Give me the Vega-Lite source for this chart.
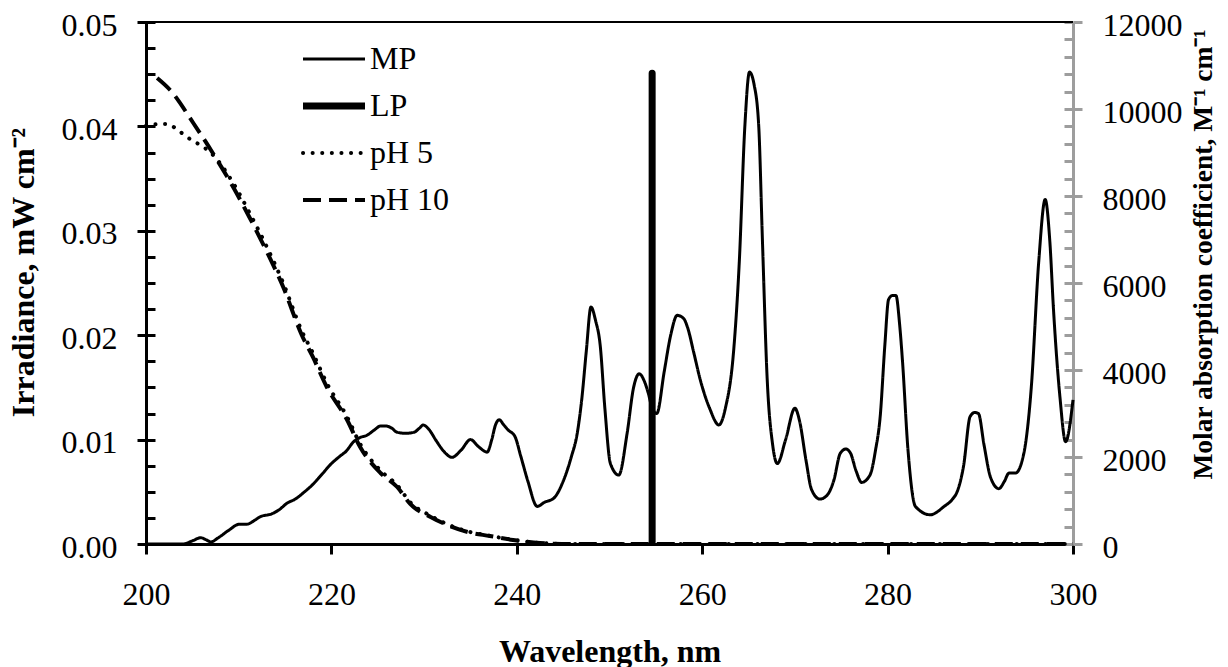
{
  "$schema": "https://vega.github.io/schema/vega-lite/v6.json",
  "width": 927,
  "height": 522,
  "autosize": {"type": "none"},
  "padding": {"left": 146, "top": 22, "right": 155, "bottom": 123},
  "background": "white",
  "config": {
    "view": {"stroke": null},
    "font": "Liberation Serif",
    "axis": {"labelFont": "Liberation Serif", "labelFontSize": 32, "labelColor": "black", "labelFlush": false, "titleFont": "Liberation Serif", "titleFontSize": 28, "titleFontWeight": "bold", "titleColor": "black", "grid": false}
  },
  "datasets": {
    "mp": [
      {"series": "MP", "wl": 200, "val": 0}, {"series": "MP", "wl": 202, "val": 0}, {"series": "MP", "wl": 204, "val": 0},
      {"series": "MP", "wl": 205, "val": 0.0003}, {"series": "MP", "wl": 205.9, "val": 0.0006}, {"series": "MP", "wl": 206.5, "val": 0.0004},
      {"series": "MP", "wl": 207, "val": 0.0002}, {"series": "MP", "wl": 207.8, "val": 0.0006}, {"series": "MP", "wl": 208.9, "val": 0.0013},
      {"series": "MP", "wl": 210.1, "val": 0.0019}, {"series": "MP", "wl": 210.9, "val": 0.0019}, {"series": "MP", "wl": 211.6, "val": 0.0022},
      {"series": "MP", "wl": 212.3, "val": 0.0026}, {"series": "MP", "wl": 213.6, "val": 0.0029}, {"series": "MP", "wl": 214.4, "val": 0.0033},
      {"series": "MP", "wl": 215.2, "val": 0.0039}, {"series": "MP", "wl": 216.1, "val": 0.0043}, {"series": "MP", "wl": 217.1, "val": 0.005},
      {"series": "MP", "wl": 218.1, "val": 0.0058}, {"series": "MP", "wl": 219.0, "val": 0.0067}, {"series": "MP", "wl": 220.0, "val": 0.0077},
      {"series": "MP", "wl": 220.9, "val": 0.0084}, {"series": "MP", "wl": 221.6, "val": 0.0089}, {"series": "MP", "wl": 222.4, "val": 0.0098},
      {"series": "MP", "wl": 223.1, "val": 0.0102}, {"series": "MP", "wl": 223.8, "val": 0.0104}, {"series": "MP", "wl": 224.6, "val": 0.0109},
      {"series": "MP", "wl": 225.3, "val": 0.0113}, {"series": "MP", "wl": 225.9, "val": 0.0113}, {"series": "MP", "wl": 226.5, "val": 0.0111},
      {"series": "MP", "wl": 227.1, "val": 0.0107}, {"series": "MP", "wl": 228.0, "val": 0.0106}, {"series": "MP", "wl": 228.9, "val": 0.0107},
      {"series": "MP", "wl": 229.5, "val": 0.0111}, {"series": "MP", "wl": 229.9, "val": 0.0114}, {"series": "MP", "wl": 230.5, "val": 0.011},
      {"series": "MP", "wl": 231.3, "val": 0.0099}, {"series": "MP", "wl": 232.2, "val": 0.0088}, {"series": "MP", "wl": 233.0, "val": 0.0083},
      {"series": "MP", "wl": 234.0, "val": 0.009}, {"series": "MP", "wl": 235.0, "val": 0.01}, {"series": "MP", "wl": 235.9, "val": 0.0093},
      {"series": "MP", "wl": 236.8, "val": 0.0088}, {"series": "MP", "wl": 237.3, "val": 0.01}, {"series": "MP", "wl": 237.7, "val": 0.0114},
      {"series": "MP", "wl": 238.1, "val": 0.0119}, {"series": "MP", "wl": 238.6, "val": 0.0114}, {"series": "MP", "wl": 239.1, "val": 0.0109},
      {"series": "MP", "wl": 239.8, "val": 0.0103}, {"series": "MP", "wl": 240.4, "val": 0.0085}, {"series": "MP", "wl": 241.2, "val": 0.006},
      {"series": "MP", "wl": 242.2, "val": 0.0036}, {"series": "MP", "wl": 243.0, "val": 0.004}, {"series": "MP", "wl": 244.0, "val": 0.0044},
      {"series": "MP", "wl": 245.0, "val": 0.006}, {"series": "MP", "wl": 245.9, "val": 0.0084}, {"series": "MP", "wl": 246.5, "val": 0.0105},
      {"series": "MP", "wl": 247.0, "val": 0.0138}, {"series": "MP", "wl": 247.5, "val": 0.0185}, {"series": "MP", "wl": 248.0, "val": 0.0227},
      {"series": "MP", "wl": 248.5, "val": 0.0214}, {"series": "MP", "wl": 249.0, "val": 0.019}, {"series": "MP", "wl": 249.5, "val": 0.013},
      {"series": "MP", "wl": 250.1, "val": 0.0077}, {"series": "MP", "wl": 251.0, "val": 0.0066}, {"series": "MP", "wl": 251.9, "val": 0.0106},
      {"series": "MP", "wl": 252.6, "val": 0.015}, {"series": "MP", "wl": 253.2, "val": 0.0163}, {"series": "MP", "wl": 253.8, "val": 0.0155},
      {"series": "MP", "wl": 254.2, "val": 0.0144}, {"series": "MP", "wl": 254.6, "val": 0.013}, {"series": "MP", "wl": 255.1, "val": 0.0125},
      {"series": "MP", "wl": 255.9, "val": 0.0165}, {"series": "MP", "wl": 256.6, "val": 0.02}, {"series": "MP", "wl": 257.3, "val": 0.0219},
      {"series": "MP", "wl": 258.0, "val": 0.0216}, {"series": "MP", "wl": 258.4, "val": 0.0208}, {"series": "MP", "wl": 259.1, "val": 0.0183},
      {"series": "MP", "wl": 259.8, "val": 0.0157}, {"series": "MP", "wl": 260.8, "val": 0.013}, {"series": "MP", "wl": 261.8, "val": 0.0114},
      {"series": "MP", "wl": 262.5, "val": 0.013}, {"series": "MP", "wl": 263.4, "val": 0.0186}, {"series": "MP", "wl": 264.0, "val": 0.027},
      {"series": "MP", "wl": 264.6, "val": 0.04}, {"series": "MP", "wl": 265.1, "val": 0.0452}, {"series": "MP", "wl": 265.6, "val": 0.044},
      {"series": "MP", "wl": 266.1, "val": 0.04}, {"series": "MP", "wl": 266.5, "val": 0.029}, {"series": "MP", "wl": 267.0, "val": 0.016},
      {"series": "MP", "wl": 267.6, "val": 0.0095}, {"series": "MP", "wl": 268.1, "val": 0.0077}, {"series": "MP", "wl": 269.0, "val": 0.01},
      {"series": "MP", "wl": 270.0, "val": 0.013}, {"series": "MP", "wl": 270.5, "val": 0.0118}, {"series": "MP", "wl": 271.2, "val": 0.008},
      {"series": "MP", "wl": 271.8, "val": 0.0052}, {"series": "MP", "wl": 272.7, "val": 0.0043}, {"series": "MP", "wl": 273.5, "val": 0.0047},
      {"series": "MP", "wl": 274.2, "val": 0.0061}, {"series": "MP", "wl": 274.9, "val": 0.0087}, {"series": "MP", "wl": 275.5, "val": 0.0091},
      {"series": "MP", "wl": 276.0, "val": 0.0087}, {"series": "MP", "wl": 276.6, "val": 0.007}, {"series": "MP", "wl": 277.2, "val": 0.0059},
      {"series": "MP", "wl": 278.1, "val": 0.0066}, {"series": "MP", "wl": 278.7, "val": 0.009}, {"series": "MP", "wl": 279.2, "val": 0.0122},
      {"series": "MP", "wl": 279.7, "val": 0.019}, {"series": "MP", "wl": 280.1, "val": 0.0234}, {"series": "MP", "wl": 280.5, "val": 0.0238},
      {"series": "MP", "wl": 280.9, "val": 0.0238}, {"series": "MP", "wl": 281.3, "val": 0.021}, {"series": "MP", "wl": 281.6, "val": 0.0176},
      {"series": "MP", "wl": 282.2, "val": 0.009}, {"series": "MP", "wl": 283.0, "val": 0.0036}, {"series": "MP", "wl": 284.6, "val": 0.0028},
      {"series": "MP", "wl": 286.1, "val": 0.0036}, {"series": "MP", "wl": 287.0, "val": 0.0043}, {"series": "MP", "wl": 287.5, "val": 0.005},
      {"series": "MP", "wl": 288.2, "val": 0.0075}, {"series": "MP", "wl": 288.9, "val": 0.0122}, {"series": "MP", "wl": 289.4, "val": 0.0126},
      {"series": "MP", "wl": 289.8, "val": 0.0125}, {"series": "MP", "wl": 290.4, "val": 0.0095}, {"series": "MP", "wl": 291.1, "val": 0.0064},
      {"series": "MP", "wl": 292.0, "val": 0.0053}, {"series": "MP", "wl": 292.6, "val": 0.006}, {"series": "MP", "wl": 293.1, "val": 0.0068},
      {"series": "MP", "wl": 293.8, "val": 0.0068}, {"series": "MP", "wl": 294.7, "val": 0.0087}, {"series": "MP", "wl": 295.5, "val": 0.015},
      {"series": "MP", "wl": 296.3, "val": 0.027}, {"series": "MP", "wl": 297.0, "val": 0.033}, {"series": "MP", "wl": 297.5, "val": 0.029},
      {"series": "MP", "wl": 297.9, "val": 0.0224}, {"series": "MP", "wl": 298.6, "val": 0.014}, {"series": "MP", "wl": 299.2, "val": 0.0098},
      {"series": "MP", "wl": 300.0, "val": 0.0138}
    ],
    "lp": [
      {"series": "LP", "wl": 254.6, "val": 0.0002},
      {"series": "LP", "wl": 254.6, "val": 0.0451}
    ],
    "ph": [
      {"series": "pH 5", "wl": 200.0, "val": 9610}, {"series": "pH 5", "wl": 201.0, "val": 9650}, {"series": "pH 5", "wl": 202.3, "val": 9656},
      {"series": "pH 5", "wl": 203.3, "val": 9540}, {"series": "pH 5", "wl": 204.4, "val": 9357}, {"series": "pH 5", "wl": 205.3, "val": 9240},
      {"series": "pH 5", "wl": 206.2, "val": 9127}, {"series": "pH 5", "wl": 207.2, "val": 8950}, {"series": "pH 5", "wl": 209.4, "val": 8300},
      {"series": "pH 5", "wl": 211.2, "val": 7600}, {"series": "pH 5", "wl": 213.1, "val": 6800}, {"series": "pH 5", "wl": 214.8, "val": 6000},
      {"series": "pH 5", "wl": 216.8, "val": 4900}, {"series": "pH 5", "wl": 218.0, "val": 4390}, {"series": "pH 5", "wl": 219.5, "val": 3700},
      {"series": "pH 5", "wl": 221.7, "val": 2920}, {"series": "pH 5", "wl": 223.1, "val": 2300}, {"series": "pH 5", "wl": 225.3, "val": 1690},
      {"series": "pH 5", "wl": 227.1, "val": 1350}, {"series": "pH 5", "wl": 228.5, "val": 960}, {"series": "pH 5", "wl": 230.7, "val": 650},
      {"series": "pH 5", "wl": 232.5, "val": 455}, {"series": "pH 5", "wl": 234.7, "val": 290}, {"series": "pH 5", "wl": 237.1, "val": 190},
      {"series": "pH 5", "wl": 239.6, "val": 95}, {"series": "pH 5", "wl": 242.5, "val": 25}, {"series": "pH 5", "wl": 245.8, "val": 0},
      {"series": "pH 5", "wl": 260, "val": 0}, {"series": "pH 5", "wl": 280, "val": 0}, {"series": "pH 5", "wl": 300, "val": 0},
      {"series": "pH 10", "wl": 201.2, "val": 10713}, {"series": "pH 10", "wl": 202.6, "val": 10437}, {"series": "pH 10", "wl": 205.1, "val": 9678},
      {"series": "pH 10", "wl": 207.2, "val": 8989}, {"series": "pH 10", "wl": 209.4, "val": 8207}, {"series": "pH 10", "wl": 211.2, "val": 7494},
      {"series": "pH 10", "wl": 213.1, "val": 6690}, {"series": "pH 10", "wl": 214.8, "val": 5908}, {"series": "pH 10", "wl": 216.8, "val": 4805},
      {"series": "pH 10", "wl": 218.0, "val": 4299}, {"series": "pH 10", "wl": 219.5, "val": 3609}, {"series": "pH 10", "wl": 221.7, "val": 2851},
      {"series": "pH 10", "wl": 223.1, "val": 2230}, {"series": "pH 10", "wl": 225.3, "val": 1632}, {"series": "pH 10", "wl": 227.1, "val": 1310},
      {"series": "pH 10", "wl": 228.5, "val": 920}, {"series": "pH 10", "wl": 230.7, "val": 621}, {"series": "pH 10", "wl": 232.5, "val": 437},
      {"series": "pH 10", "wl": 234.7, "val": 276}, {"series": "pH 10", "wl": 237.1, "val": 184}, {"series": "pH 10", "wl": 239.6, "val": 92},
      {"series": "pH 10", "wl": 242.5, "val": 23}, {"series": "pH 10", "wl": 245.8, "val": 0}, {"series": "pH 10", "wl": 260, "val": 0},
      {"series": "pH 10", "wl": 280, "val": 0}, {"series": "pH 10", "wl": 300, "val": 0}
    ]
  },
  "encoding": {
    "x": {
      "field": "wl", "type": "quantitative",
      "scale": {"domain": [200, 300], "nice": false},
      "axis": {"title": "Wavelength, nm", "values": [200, 220, 240, 260, 280, 300], "format": "d", "domainColor": "black", "domainWidth": 3, "tickColor": "black", "tickWidth": 3, "tickSize": 10, "labelPadding": 25, "titleBaseline": "alphabetic", "titleY": 117, "titleFontSize": 32}
    },
    "strokeDash": {
      "field": "series", "type": "nominal",
      "scale": {"domain": ["MP", "LP", "pH 5", "pH 10"], "range": [[1, 0], [1, 0], [0.1, 9.5], [18, 8]]},
      "legend": {
        "orient": "none", "legendX": 172, "legendY": 21, "title": null,
        "labelFont": "Liberation Serif", "labelFontSize": 32, "labelColor": "black",
        "symbolType": "stroke", "symbolSize": 3844, "symbolStrokeColor": "black", "symbolStrokeWidth": 3,
        "rowPadding": 15, "labelOffset": 20, "padding": 0,
        "encode": {"symbols": {"update": {
          "strokeWidth": {"signal": "datum.value === 'LP' ? 7 : (datum.value === 'MP' ? 3 : 4)"},
          "strokeCap": {"signal": "datum.value === 'pH 5' ? 'round' : 'butt'"},
          "stroke": {"value": "black"}
        }}}
      }
    }
  },
  "layer": [
    {
      "layer": [
        {
          "data": {"name": "mp"},
          "mark": {"type": "line", "color": "black", "strokeWidth": 3, "interpolate": "monotone"},
          "encoding": {
            "y": {"field": "val", "type": "quantitative", "scale": {"domain": [0, 0.05], "nice": false},
              "axis": {"orient": "left", "title": "Irradiance, mW cm⁻²", "values": [0, 0.01, 0.02, 0.03, 0.04, 0.05], "format": ".2f",
                "domainColor": "black", "domainWidth": 3, "tickColor": "black", "tickWidth": 3, "tickSize": 9, "labelPadding": 20, "labelOffset": 3,
                "titleFontSize": 32, "titleAngle": -90, "titleBaseline": "alphabetic", "titleAlign": "center", "titleX": -113, "titleY": 250}}
          }
        },
        {
          "data": {"name": "lp"},
          "mark": {"type": "line", "color": "black", "strokeWidth": 7, "strokeCap": "round"},
          "encoding": {
            "y": {"field": "val", "type": "quantitative", "scale": {"domain": [0, 0.05], "nice": false},
              "axis": {"orient": "left", "title": null, "labels": false, "domain": false,
                "values": [0, 0.0025, 0.005, 0.0075, 0.01, 0.0125, 0.015, 0.0175, 0.02, 0.0225, 0.025, 0.0275, 0.03, 0.0325, 0.035, 0.0375, 0.04, 0.0425, 0.045, 0.0475, 0.05],
                "tickColor": "black", "tickWidth": 3, "tickSize": -9}}
          }
        },
        {
          "data": {"values": [{}]},
          "mark": {"type": "rule", "color": "black", "strokeWidth": 2},
          "encoding": {"y": {"datum": 0.05, "type": "quantitative", "scale": {"domain": [0, 0.05], "nice": false}, "axis": null}, "x": null, "strokeDash": null}
        }
      ],
      "resolve": {"axis": {"y": "independent"}}
    },
    {
      "data": {"name": "ph"},
      "layer": [
        {
          "transform": [{"filter": "datum.series === 'pH 5'"}],
          "mark": {"type": "line", "color": "black", "strokeWidth": 4, "strokeCap": "round", "interpolate": "monotone"},
          "encoding": {
            "y": {"field": "val", "type": "quantitative", "scale": {"domain": [0, 12000], "nice": false},
              "axis": {"orient": "right", "title": "Molar absorption coefficient, M⁻¹ cm⁻¹", "values": [0, 2000, 4000, 6000, 8000, 10000, 12000], "format": "d",
                "domainColor": "#9d9d9d", "domainWidth": 3, "tickColor": "#9d9d9d", "tickWidth": 3, "tickSize": 9, "labelPadding": 20, "labelOffset": 3,
                "titleFontSize": 27.5, "titleAngle": -90, "titleBaseline": "alphabetic", "titleAlign": "center", "titleX": 138, "titleY": 232}}
          }
        },
        {
          "transform": [{"filter": "datum.series === 'pH 10'"}],
          "mark": {"type": "line", "color": "black", "strokeWidth": 4, "interpolate": "monotone"},
          "encoding": {
            "y": {"field": "val", "type": "quantitative", "scale": {"domain": [0, 12000], "nice": false},
              "axis": {"orient": "right", "title": null, "labels": false, "domain": false,
                "values": [0, 400, 800, 1200, 1600, 2000, 2400, 2800, 3200, 3600, 4000, 4400, 4800, 5200, 5600, 6000, 6400, 6800, 7200, 7600, 8000, 8400, 8800, 9200, 9600, 10000, 10400, 10800, 11200, 11600, 12000],
                "tickColor": "#9d9d9d", "tickWidth": 3, "tickSize": -9}}
          }
        }
      ],
      "resolve": {"axis": {"y": "independent"}}
    }
  ],
  "resolve": {"scale": {"y": "independent"}}
}
